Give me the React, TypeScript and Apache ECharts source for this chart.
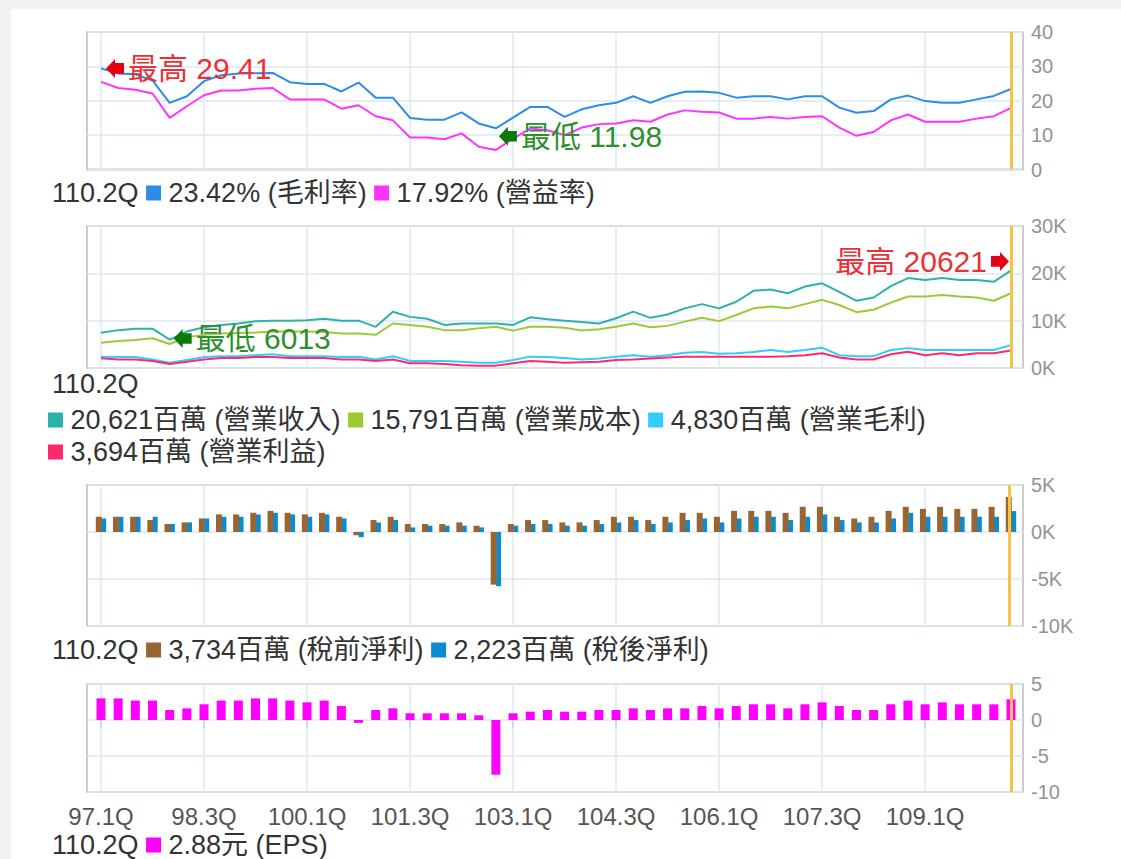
import React, { useEffect, useRef } from 'react';
import * as echarts from 'echarts';

const quarters = [
  '97.1Q','97.2Q','97.3Q','97.4Q','98.1Q','98.2Q','98.3Q','98.4Q','99.1Q','99.2Q','99.3Q','99.4Q',
  '100.1Q','100.2Q','100.3Q','100.4Q','101.1Q','101.2Q','101.3Q','101.4Q','102.1Q','102.2Q','102.3Q','102.4Q',
  '103.1Q','103.2Q','103.3Q','103.4Q','104.1Q','104.2Q','104.3Q','104.4Q','105.1Q','105.2Q','105.3Q','105.4Q',
  '106.1Q','106.2Q','106.3Q','106.4Q','107.1Q','107.2Q','107.3Q','107.4Q','108.1Q','108.2Q','108.3Q','108.4Q',
  '109.1Q','109.2Q','109.3Q','109.4Q','110.1Q','110.2Q'
];
const xTickLabels = ['97.1Q','98.3Q','100.1Q','101.3Q','103.1Q','104.3Q','106.1Q','107.3Q','109.1Q'];

// 毛利率 (%)
const grossMargin = [
  29.41,27.9,27.7,25.9,19.4,21.3,25.7,27.4,27.9,28.0,28.1,25.4,
  24.9,24.9,22.7,25.3,20.9,20.9,15.0,14.5,14.5,16.6,13.4,11.98,
  15.1,18.2,18.2,15.3,17.5,18.7,19.4,21.3,19.4,21.3,22.6,22.7,
  22.3,20.9,21.3,21.3,20.4,21.3,21.3,18.0,16.5,17.0,20.4,21.5,
  19.9,19.4,19.4,20.4,21.4,23.42
];
// 營益率 (%)
const opMargin = [
  25.5,23.7,23.2,22.1,15.0,18.4,21.6,23.0,23.0,23.5,23.7,20.4,
  20.4,20.4,17.7,18.7,15.5,14.3,9.3,9.3,8.8,10.5,6.6,5.7,
  9.0,11.9,11.4,10.0,12.2,13.2,13.4,14.3,13.9,16.0,17.2,16.8,
  16.6,14.8,14.8,15.3,14.8,15.3,15.5,12.2,9.8,10.9,14.3,16.0,
  13.9,13.9,13.9,14.8,15.5,17.92
];
// 營業收入 (百萬)
const revenue = [
  7460,8000,8300,8300,6013,7700,8600,9100,9400,9900,10000,10000,
  10100,10400,10000,10000,8700,11900,10800,10400,9100,9400,9400,9400,
  9100,10700,10300,10000,9700,9400,10500,11900,10600,11300,12600,13500,
  12600,14000,16300,16600,15800,17200,17900,16100,14200,14900,17300,19000,
  18600,19000,18600,18600,18200,20621
];
// 營業成本 (百萬)
const cost = [
  5350,5700,5900,6300,5070,6500,7000,7300,7400,7500,7700,7700,
  7700,7600,7300,7300,7000,9400,9100,8700,8000,8000,8400,8700,
  7900,8700,8700,8500,7900,8200,8700,9400,8600,8900,9800,10600,
  9900,11200,12600,13000,12600,13500,14400,13300,11800,12300,13800,15100,
  15100,15400,15100,14900,14200,15791
];
// 營業毛利 (百萬)
const grossProfit = [
  2400,2300,2300,1800,1100,1700,2300,2500,2500,2700,2900,2500,
  2500,2500,2300,2400,1800,2500,1500,1500,1500,1300,1100,1100,
  1700,2400,2300,2100,1800,2000,2400,2700,2400,2700,3200,3400,
  3000,3100,3400,3800,3400,3800,4300,2700,2500,2500,3800,4200,
  3800,3800,3800,3800,3800,4830
];
// 營業利益 (百萬)
const opIncome = [
  2050,1800,1800,1500,850,1300,1800,2100,2100,2300,2300,2100,
  2100,2100,1800,1800,1500,1800,1000,1000,850,600,500,500,
  1000,1500,1300,1100,1200,1300,1700,1800,2000,2200,2400,2400,
  2400,2400,2400,2400,2500,2700,3100,2200,1800,1800,2900,3450,
  2700,3100,2700,3100,3100,3694
];
// 稅前淨利 (百萬)
const preTax = [
  1620,1620,1620,1270,850,1020,1440,1870,1870,2040,2250,2040,
  1870,2040,1620,-350,1270,1620,850,850,850,1020,670,-5600,
  850,1270,1270,1020,1020,1270,1620,1620,1270,1620,2040,2040,
  1620,2250,2250,2250,2040,2680,2680,1620,1440,1620,2250,2680,
  2460,2680,2460,2460,2680,3734
];
// 稅後淨利 (百萬)
const afterTax = [
  1440,1620,1620,1620,850,1020,1440,1620,1620,1870,2040,1870,
  1620,1870,1440,-560,1020,1270,490,670,670,670,490,-5770,
  670,850,850,670,670,850,1020,1270,850,1020,1270,1440,
  1020,1440,1620,1620,1270,1620,1870,1270,1020,1020,1440,2040,
  1620,1620,1620,1620,1620,2223
];
// EPS (元)
const eps = [
  3.0,3.0,2.7,2.7,1.39,1.62,2.18,2.7,2.7,3.0,3.0,2.7,
  2.45,2.7,1.94,-0.4,1.39,1.62,0.93,0.93,0.93,0.93,0.65,-7.6,
  0.93,1.16,1.39,1.16,1.16,1.39,1.39,1.62,1.39,1.62,1.62,1.94,
  1.62,1.94,2.18,2.18,1.62,2.18,2.45,1.94,1.39,1.39,2.18,2.7,
  2.18,2.45,2.18,2.18,2.18,2.88
];

const FONT = '"Liberation Sans", Arial, "Noto Sans CJK TC", sans-serif';
const C = {
  gm: '#2b8de6', om: '#ff33ff', rev: '#2db1ab', cost: '#9acb34', gp: '#33ccff', op: '#ff2a6d',
  pre: '#996633', post: '#0a8bd2', eps: '#ff00ff', now: '#f5c542', grid: '#dce9f3', border: '#cccccc',
};
const ARROW_L = 'path://M0,10 L9,1 L9,5 L18,5 L18,15 L9,15 L9,19 Z';
const ARROW_R = 'path://M18,10 L9,1 L9,5 L0,5 L0,15 L9,15 L9,19 Z';

const pts = (arr: number[]) => arr.map((v, i) => [i, v]);
const fmtM = (v: number) => v.toLocaleString('en-US');

export default function App() {
  const ref = useRef<HTMLDivElement>(null);
  useEffect(() => {
    if (!ref.current) return;
    const chart = echarts.init(ref.current, undefined, { renderer: 'svg' });
    const last = quarters.length - 1;
    const tickIdx = xTickLabels.map((q) => quarters.indexOf(q));
    const grids = [
      { left: 87, width: 936, top: 32, height: 137.5 },
      { left: 87, width: 936, top: 226, height: 142 },
      { left: 87, width: 936, top: 485, height: 141 },
      { left: 87, width: 936, top: 684, height: 108 },
    ].map((g) => ({ ...g, show: true, borderColor: C.border, borderWidth: 2 }));

    const xAxes = grids.map((_, gi) => ({
      type: 'value', gridIndex: gi, min: -0.815, max: last + 0.7,
      axisLine: { show: false },
      axisTick: { show: gi === 3, customValues: tickIdx, length: 8, lineStyle: { color: '#cfcfcf', width: 1.5 } },
      axisLabel: {
        show: gi === 3, customValues: tickIdx, margin: 12, color: '#555', fontSize: 24, fontFamily: FONT,
        formatter: (v: number) => quarters[Math.round(v)] ?? '',
      },
      splitLine: { show: true, lineStyle: { color: C.grid, width: 1.5 } },
    }));
    const yBase = { type: 'value', position: 'right', axisLine: { show: false }, axisTick: { show: false },
      splitLine: { show: true, lineStyle: { color: C.grid, width: 1.5 } } };
    const yLabel = { color: '#939393', fontSize: 20, margin: 8, fontFamily: FONT };
    const kFmt = (v: number) => `${v / 1000}K`;
    const yAxes = [
      { ...yBase, gridIndex: 0, min: 0, max: 40, interval: 10, axisLabel: yLabel },
      { ...yBase, gridIndex: 1, min: 0, max: 30000, interval: 10000, axisLabel: { ...yLabel, formatter: kFmt } },
      { ...yBase, gridIndex: 2, min: -10000, max: 5000, interval: 5000, axisLabel: { ...yLabel, formatter: kFmt } },
      { ...yBase, gridIndex: 3, min: -10, max: 5, interval: 5, axisLabel: yLabel },
    ];
    const nowLine = {
      silent: true, symbol: 'none', label: { show: false },
      lineStyle: { color: C.now, width: 3, type: 'solid' },
      data: [{ xAxis: last }],
    };
    const line = (gi: number, name: string, data: number[], color: string, extra: any = {}) => ({
      type: 'line', name, xAxisIndex: gi, yAxisIndex: gi, data: pts(data), symbol: 'none',
      lineStyle: { color, width: 2 }, itemStyle: { color }, ...extra,
    });
    const hiLabel = { show: true, fontSize: 30, fontFamily: FONT, color: '#e8323a', distance: 4 };
    const loLabel = { show: true, fontSize: 30, fontFamily: FONT, color: '#2f8f2f', distance: 4 };

    const series: any[] = [
      line(0, '毛利率', grossMargin, C.gm, {
        z: 3,
        markPoint: {
          symbolSize: [18, 19],
          data: [
            { type: 'max', symbol: ARROW_L, symbolOffset: [14, 0], itemStyle: { color: '#e60012' },
              label: { ...hiLabel, position: 'right', formatter: '最高 {c}' } },
            { type: 'min', symbol: ARROW_L, symbolOffset: [12, 8], itemStyle: { color: '#0b7a0b' },
              label: { ...loLabel, position: 'right', formatter: '最低 {c}' } },
          ],
        },
        markLine: nowLine,
      }),
      line(0, '營益率', opMargin, C.om),
      line(1, '營業收入', revenue, C.rev, {
        z: 3,
        markPoint: {
          symbolSize: [18, 19],
          data: [
            { type: 'max', symbol: ARROW_R, symbolOffset: [-11, -9], itemStyle: { color: '#e60012' },
              label: { ...hiLabel, position: 'left', formatter: '最高 {c}' } },
            { type: 'min', symbol: ARROW_L, symbolOffset: [13, -1], itemStyle: { color: '#0b7a0b' },
              label: { ...loLabel, position: 'right', formatter: '最低 {c}' } },
          ],
        },
        markLine: nowLine,
      }),
      line(1, '營業成本', cost, C.cost),
      line(1, '營業毛利', grossProfit, C.gp),
      line(1, '營業利益', opIncome, C.op),
      { type: 'bar', name: '稅前淨利', xAxisIndex: 2, yAxisIndex: 2, data: pts(preTax), barWidth: 6,
        barGap: '-10%', itemStyle: { color: C.pre }, z: 3, markLine: nowLine },
      { type: 'bar', name: '稅後淨利', xAxisIndex: 2, yAxisIndex: 2, data: pts(afterTax), barWidth: 5,
        barGap: '-10%', itemStyle: { color: C.post }, z: 2 },
      { type: 'bar', name: 'EPS', xAxisIndex: 3, yAxisIndex: 3, data: pts(eps), barWidth: 9,
        itemStyle: { color: C.eps }, markLine: nowLine },
    ];

    const FS = 27;
    const txt = { fontSize: FS, color: '#333', fontFamily: FONT };
    const sq = (color: string) => ({ width: 15, height: 15, backgroundColor: color, fontSize: 15 });
    const rich = {
      t: txt,
      s0: sq(C.gm), s1: sq(C.om), s2: sq(C.rev), s3: sq(C.cost), s4: sq(C.gp), s5: sq(C.op),
      s6: sq(C.pre), s7: sq(C.post), s8: sq(C.eps),
    };
    const q = quarters[last];
    const legendItem = (x: number, y: number, text: string) => ({
      type: 'text', x, y, silent: true,
      style: { text, rich, verticalAlign: 'middle', align: 'left', fontSize: FS, fontFamily: FONT, fill: '#333' },
    });
    const L = (arr: number[]) => arr[last];
    const graphic = [
      { type: 'rect', shape: { x: 0, y: 0, width: 1121, height: 859 }, style: { fill: '#f2f2f2' }, z: -10, silent: true },
      { type: 'rect', shape: { x: 11, y: 9, width: 1110, height: 850 }, style: { fill: '#ffffff' }, z: -9, silent: true },
      legendItem(52, 193, `{t|${q}} {s0| }{t| ${L(grossMargin).toFixed(2)}% (毛利率)} {s1| }{t| ${L(opMargin).toFixed(2)}% (營益率)}`),
      legendItem(52, 384, `{t|${q}}`),
      legendItem(48, 420, `{s2| }{t| ${fmtM(L(revenue))}百萬 (營業收入)} {s3| }{t| ${fmtM(L(cost))}百萬 (營業成本)} {s4| }{t| ${fmtM(L(grossProfit))}百萬 (營業毛利)}`),
      legendItem(48, 452, `{s5| }{t| ${fmtM(L(opIncome))}百萬 (營業利益)}`),
      legendItem(52, 650, `{t|${q}} {s6| }{t| ${fmtM(L(preTax))}百萬 (稅前淨利)} {s7| }{t| ${fmtM(L(afterTax))}百萬 (稅後淨利)}`),
      legendItem(52, 845, `{t|${q}} {s8| }{t| ${L(eps).toFixed(2)}元 (EPS)}`),
    ];

    chart.setOption({
      animation: false,
      backgroundColor: '#ffffff',
      textStyle: { fontFamily: FONT },
      grid: grids,
      xAxis: xAxes,
      yAxis: yAxes,
      series,
      graphic,
    } as any);
    return () => chart.dispose();
  }, []);
  return <div ref={ref} style={{ position: 'fixed', left: 0, top: 0, width: 1121, height: 859 }} />;
}
